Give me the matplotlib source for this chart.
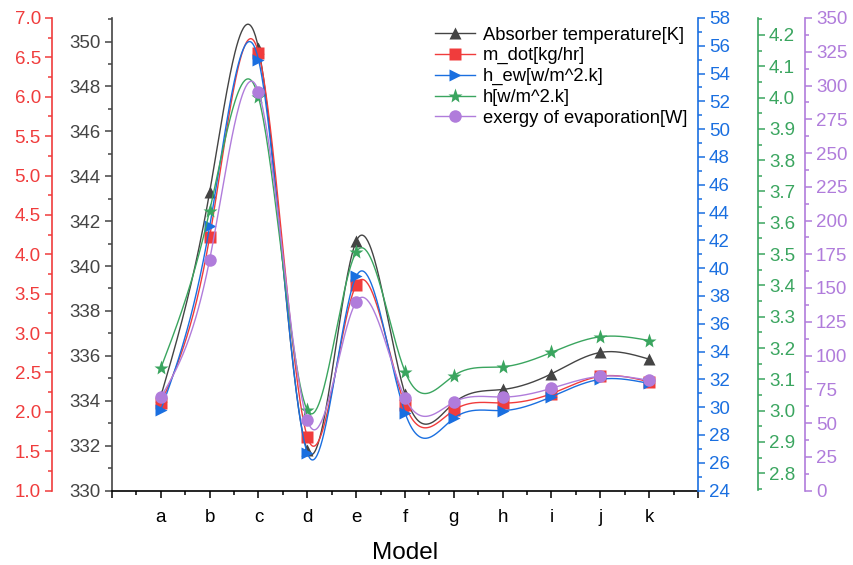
import numpy as np
import matplotlib
matplotlib.use("Agg")
import matplotlib.pyplot as plt
from matplotlib.ticker import MultipleLocator
from matplotlib.lines import Line2D

plt.rcParams['font.family'] = ['Liberation Sans', 'DejaVu Sans']

# Данные
models = ['a', 'b', 'c', 'd', 'e', 'f', 'g', 'h', 'i', 'j', 'k']
absorber_t = [334.2, 343.3, 349.7, 331.8, 341.1, 334.3, 333.9, 334.5, 335.2, 336.15, 335.85]
m_dot = [2.11, 4.22, 6.56, 1.68, 3.61, 2.09, 2.02, 2.11, 2.23, 2.45, 2.38]
h_ew = [29.8, 43.0, 55.0, 26.7, 39.4, 29.6, 29.2, 29.75, 30.75, 32.0, 31.7]
h = [3.136, 3.639, 4.001, 3.002, 3.506, 3.125, 3.112, 3.140, 3.186, 3.236, 3.224]
exergy = [69.0, 171.0, 295.5, 52.0, 139.7, 68.6, 65.5, 69.2, 75.7, 84.6, 81.6]


def natural_spline(x, y, xs):
    # натуральный кубический сплайн
    x = np.asarray(x, float)
    y = np.asarray(y, float)
    n = len(x)
    hh = np.diff(x)
    A = np.zeros((n, n))
    b = np.zeros(n)
    A[0, 0] = 1
    A[-1, -1] = 1
    for i in range(1, n - 1):
        A[i, i - 1] = hh[i - 1]
        A[i, i] = 2 * (hh[i - 1] + hh[i])
        A[i, i + 1] = hh[i]
        b[i] = 6 * ((y[i + 1] - y[i]) / hh[i] - (y[i] - y[i - 1]) / hh[i - 1])
    M = np.linalg.solve(A, b)
    idx = np.clip(np.searchsorted(x, xs) - 1, 0, n - 2)
    x0, x1 = x[idx], x[idx + 1]
    hi = x1 - x0
    t0 = x1 - xs
    t1 = xs - x0
    return (M[idx] * t0 ** 3 / (6 * hi) + M[idx + 1] * t1 ** 3 / (6 * hi)
            + (y[idx] / hi - M[idx] * hi / 6) * t0
            + (y[idx + 1] / hi - M[idx + 1] * hi / 6) * t1)


xpos = np.arange(1, len(models) + 1)
xs = np.linspace(1, len(models), 600)

fig = plt.figure(figsize=(8.54, 5.65), dpi=100)
ax = fig.add_axes([112 / 854, 1 - 490.5 / 565, (698 - 112) / 854, 472.5 / 565])
ax_r = ax.twinx()
ax_b = ax.twinx()
ax_g = ax.twinx()
ax_p = ax.twinx()

c_k = '#444444'
c_r = '#F03C3C'
c_b = '#1A6FE0'
c_g = '#3AA55F'
c_p = '#B07CDB'

series = [
    (ax, absorber_t, c_k, '^', 'Absorber temperature[K]'),
    (ax_r, m_dot, c_r, 's', 'm_dot[kg/hr]'),
    (ax_b, h_ew, c_b, '>', 'h_ew[w/m^2.k]'),
    (ax_g, h, c_g, '*', 'h[w/m^2.k]'),
    (ax_p, exergy, c_p, 'o', 'exergy of evaporation[W]'),
]
handles = []
for a, vals, col, mk, lab in series:
    a.plot(xs, natural_spline(xpos, vals, xs), color=col, lw=1.0)
    ms = 11 if mk == '*' else 9
    a.plot(xpos, vals, ls='none', marker=mk, color=col, ms=ms, mec='none')
    handles.append(Line2D([], [], color=col, lw=1.0, marker=mk, ms=ms, mec='none', label=lab))

ax.set_xlim(0, 12)
ax.set_xticks(range(0, 13))
ax.set_xticklabels([''] + models + [''])
ax.xaxis.set_minor_locator(MultipleLocator(0.5))
ax.set_xlabel('Model', fontsize=17.5, labelpad=12)

ax.set_ylim(330, 351.05)
ax.yaxis.set_major_locator(MultipleLocator(2))
ax.yaxis.set_minor_locator(MultipleLocator(1))

ax_r.set_ylim(1.0, 7.0)
ax_r.yaxis.set_major_locator(MultipleLocator(0.5))
ax_r.yaxis.set_minor_locator(MultipleLocator(0.25))
ax_r.yaxis.set_ticks_position('left')
ax_r.yaxis.set_label_position('left')
ax_r.spines['left'].set_position(('outward', 43.2))

ax_b.set_ylim(24, 58)
ax_b.yaxis.set_major_locator(MultipleLocator(2))
ax_b.yaxis.set_minor_locator(MultipleLocator(1))

ax_g.set_ylim(2.745, 4.254)
ax_g.yaxis.set_major_locator(MultipleLocator(0.1))
ax_g.yaxis.set_minor_locator(MultipleLocator(0.05))
ax_g.spines['right'].set_position(('outward', 43.2))

ax_p.set_ylim(0, 350)
ax_p.yaxis.set_major_locator(MultipleLocator(25))
ax_p.yaxis.set_minor_locator(MultipleLocator(12.5))
ax_p.spines['right'].set_position(('outward', 77))

for a in [ax, ax_r, ax_b, ax_g, ax_p]:
    for s in a.spines.values():
        s.set_visible(False)
    a.tick_params(which='major', length=5, width=1.1, labelsize=13.5, pad=3)
    a.tick_params(which='minor', length=3, width=1.1)

ax.spines['bottom'].set_visible(True)
ax.spines['bottom'].set_linewidth(1.2)
ax.spines['left'].set_visible(True)
ax.spines['left'].set_color(c_k)
ax.spines['left'].set_linewidth(1.2)
ax.tick_params(axis='y', which='both', colors=c_k)
ax.tick_params(axis='x', labelsize=13.5, pad=8)

for a, side, col in [(ax_r, 'left', c_r), (ax_b, 'right', c_b),
                     (ax_g, 'right', c_g), (ax_p, 'right', c_p)]:
    a.spines[side].set_visible(True)
    a.spines[side].set_color(col)
    a.spines[side].set_linewidth(1.2)
    a.tick_params(axis='y', which='both', colors=col)

ax_p.legend(handles=handles, loc='upper right', bbox_to_anchor=(1.0, 1.005),
            frameon=False, fontsize=13.2, handlelength=2.2, labelspacing=0.2,
            handletextpad=0.4, borderaxespad=0.2)

fig.savefig('out.png', dpi=100)
